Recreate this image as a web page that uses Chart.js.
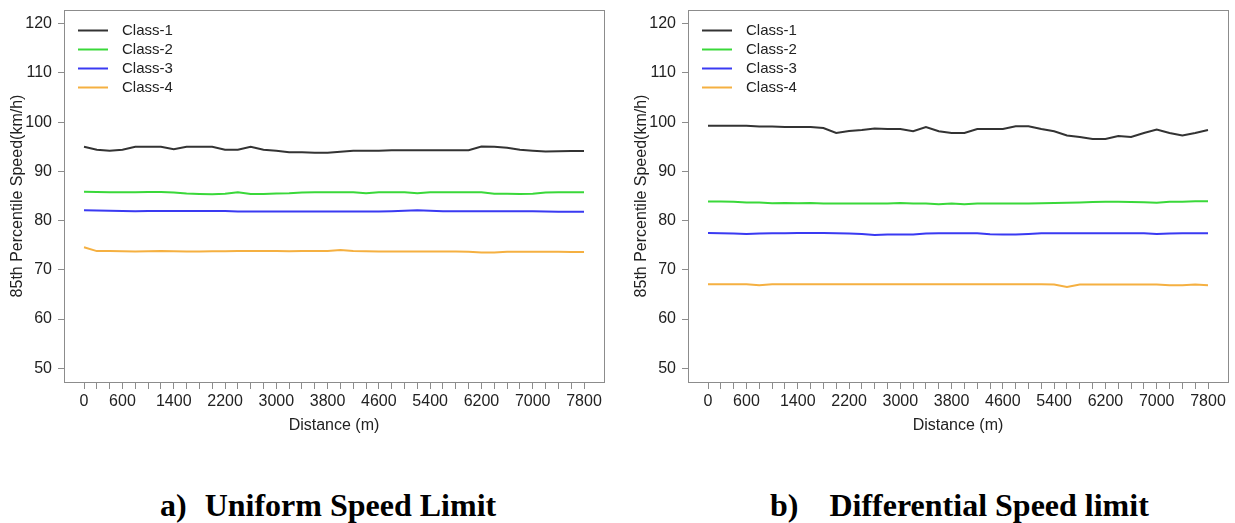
<!DOCTYPE html>
<html><head><meta charset="utf-8">
<script src="https://cdn.jsdelivr.net/npm/chart.js@4.4.1/dist/chart.umd.min.js"></script>
<style>
html,body{margin:0;padding:0;background:#fff;width:1235px;height:523px;overflow:hidden;}
#wrap{position:relative;width:1235px;height:523px;}
.panel{position:absolute;top:0;height:440px;}
.cap{position:absolute;top:489px;font-family:"Liberation Serif","Times New Roman",serif;font-weight:bold;font-size:32px;line-height:32px;white-space:nowrap;color:#000}
</style></head><body>
<div id="wrap">
<div class="panel" style="left:0;width:617px"><canvas id="cA"></canvas></div>
<div class="panel" style="left:617px;width:618px"><canvas id="cB"></canvas></div>
<div class="cap" style="left:160px">a)<span style="margin-left:18px">Uniform Speed Limit</span></div>
<div class="cap" style="left:770px">b)<span style="margin-left:31px">Differential Speed limit</span></div>
</div>
<script>
const distances = [0,200,400,600,800,1000,1200,1400,1600,1800,2000,2200,2400,2600,2800,3000,3200,3400,3600,3800,
  4000,4200,4400,4600,4800,5000,5200,5400,5600,5800,6000,6200,6400,6600,6800,7000,7200,7400,7600,7800];
const xTickLabels = [0,600,1400,2200,3000,3800,4600,5400,6200,7000,7800];
const yTicks = [50,60,70,80,90,100,110,120];
const seriesNames = ['Class-1','Class-2','Class-3','Class-4'];
const seriesColors = ['#333333','#3ad83a','#3a3af2','#f5b041'];

// a) Uniform Speed Limit
const uniformClass1 = [95.0,94.4,94.2,94.4,95.0,95.0,95.0,94.5,95.0,95.0,95.0,94.4,94.4,95.0,94.4,94.2,93.9,93.9,93.8,93.8,
  94.0,94.2,94.2,94.2,94.3,94.3,94.3,94.3,94.3,94.3,94.3,95.05,95.0,94.8,94.4,94.2,94.05,94.1,94.15,94.15];
const uniformClass2 = [85.85,85.8,85.75,85.75,85.75,85.8,85.8,85.7,85.5,85.4,85.35,85.45,85.75,85.4,85.4,85.5,85.55,85.7,85.75,85.75,
  85.75,85.75,85.55,85.75,85.75,85.75,85.55,85.75,85.75,85.75,85.75,85.75,85.45,85.45,85.4,85.45,85.7,85.75,85.75,85.75];
const uniformClass3 = [82.1,82.05,82.0,81.95,81.9,81.95,81.95,81.95,81.95,81.95,81.95,81.95,81.85,81.85,81.85,81.85,81.85,81.85,81.85,81.85,
  81.85,81.85,81.85,81.85,81.9,82.0,82.1,82.0,81.9,81.9,81.9,81.9,81.9,81.9,81.9,81.9,81.85,81.8,81.8,81.8];
const uniformClass4 = [74.6,73.8,73.8,73.75,73.7,73.75,73.8,73.75,73.7,73.7,73.75,73.75,73.8,73.8,73.8,73.8,73.75,73.8,73.8,73.8,
  74.0,73.8,73.75,73.7,73.7,73.7,73.7,73.7,73.7,73.7,73.65,73.5,73.5,73.65,73.65,73.65,73.65,73.65,73.6,73.6];

// b) Differential Speed limit
const diffClass1 = [99.3,99.3,99.3,99.3,99.1,99.1,99.0,99.0,99.0,98.8,97.8,98.2,98.4,98.7,98.6,98.6,98.15,99.0,98.15,97.8,
  97.8,98.6,98.6,98.6,99.15,99.15,98.6,98.15,97.3,97.0,96.6,96.6,97.2,97.0,97.8,98.5,97.8,97.3,97.8,98.4];
const diffClass2 = [83.9,83.9,83.85,83.7,83.7,83.55,83.6,83.55,83.6,83.5,83.5,83.5,83.5,83.5,83.5,83.6,83.5,83.5,83.3,83.5,
  83.3,83.5,83.5,83.5,83.5,83.5,83.55,83.6,83.65,83.7,83.8,83.85,83.85,83.8,83.75,83.65,83.85,83.85,83.95,83.95];
const diffClass3 = [77.5,77.45,77.4,77.3,77.4,77.45,77.45,77.5,77.5,77.5,77.45,77.4,77.3,77.05,77.2,77.2,77.2,77.4,77.45,77.45,
  77.45,77.45,77.25,77.2,77.2,77.3,77.45,77.45,77.45,77.45,77.45,77.45,77.45,77.45,77.45,77.3,77.4,77.45,77.45,77.45];
const diffClass4 = [67.05,67.05,67.05,67.05,66.85,67.05,67.05,67.05,67.05,67.05,67.05,67.05,67.05,67.05,67.05,67.05,67.05,67.05,67.05,67.05,
  67.05,67.05,67.05,67.05,67.05,67.05,67.05,67.0,66.5,67.0,67.0,67.0,67.0,67.0,67.0,67.0,66.85,66.85,67.0,66.85];

Chart.defaults.font.family = '"Liberation Sans", Arial, sans-serif';
Chart.defaults.color = '#222';

const framePlugin = {
  id: 'frame',
  afterDraw(chart) {
    const {ctx, chartArea: a} = chart;
    ctx.save();
    ctx.strokeStyle = '#8c8c8c';
    ctx.lineWidth = 1;
    ctx.strokeRect(Math.round(a.left) + 0.5, Math.round(a.top) + 0.5, Math.round(a.right - a.left), Math.round(a.bottom - a.top));
    ctx.font = '15px "Liberation Sans", Arial, sans-serif';
    ctx.textBaseline = 'middle';
    ctx.textAlign = 'left';
    chart.data.datasets.forEach((ds, i) => {
      const y = a.top + 20.5 + i * 19;
      ctx.strokeStyle = ds.borderColor;
      ctx.lineWidth = 2;
      ctx.beginPath();
      ctx.moveTo(a.left + 14, y);
      ctx.lineTo(a.left + 44, y);
      ctx.stroke();
      ctx.fillStyle = '#222';
      ctx.fillText(ds.label, a.left + 58, y);
    });
    ctx.restore();
  }
};

function clearPad(s) { s.paddingTop = 0; s.paddingBottom = 0; s.paddingLeft = 0; s.paddingRight = 0; }

function makePanel(id, seriesList, plotLeft, rightPad, yTitlePad) {
  const datasets = seriesList.map((vals, i) => ({
    label: seriesNames[i],
    data: distances.map((d, k) => ({x: d, y: vals[k]})),
    borderColor: seriesColors[i],
    backgroundColor: seriesColors[i],
    borderWidth: 2,
    pointRadius: 0,
    tension: 0,
    fill: false
  }));
  return new Chart(document.getElementById(id), {
    type: 'line',
    data: {datasets},
    plugins: [framePlugin],
    options: {
      responsive: true,
      maintainAspectRatio: false,
      animation: false,
      layout: {padding: {top: 10, left: 0, right: rightPad, bottom: 0}},
      plugins: {legend: {display: false}, tooltip: {enabled: false}},
      scales: {
        x: {
          type: 'linear', min: -312, max: 8112,
          afterBuildTicks: s => { s.ticks = distances.map(v => ({value: v})); },
          afterFit: s => { s.height = 58; clearPad(s); },
          grid: {display: true, drawOnChartArea: false, drawTicks: true, tickLength: 7, color: '#8c8c8c'},
          border: {display: false},
          ticks: {autoSkip: false, maxRotation: 0, minRotation: 0, padding: 3, font: {size: 16}, color: '#222',
                  callback: v => xTickLabels.includes(v) ? String(v) : ''},
          title: {display: true, text: 'Distance (m)', font: {size: 16}, color: '#222', padding: {top: 0, bottom: 5}}
        },
        y: {
          type: 'linear', min: 47.2, max: 122.8,
          afterBuildTicks: s => { s.ticks = yTicks.map(v => ({value: v})); },
          afterFit: s => { s.width = plotLeft; clearPad(s); },
          grid: {display: true, drawOnChartArea: false, drawTicks: true, tickLength: 6, color: '#8c8c8c'},
          border: {display: false},
          ticks: {padding: 6, font: {size: 16}, color: '#222'},
          title: {display: true, text: '85th Percentile Speed(km/h)', font: {size: 16}, color: '#222', padding: {top: yTitlePad, bottom: 0}}
        }
      }
    }
  });
}

makePanel('cA', [uniformClass1, uniformClass2, uniformClass3, uniformClass4], 64, 13, 8);
makePanel('cB', [diffClass1, diffClass2, diffClass3, diffClass4], 71, 7, 15);
</script>
</body></html>
